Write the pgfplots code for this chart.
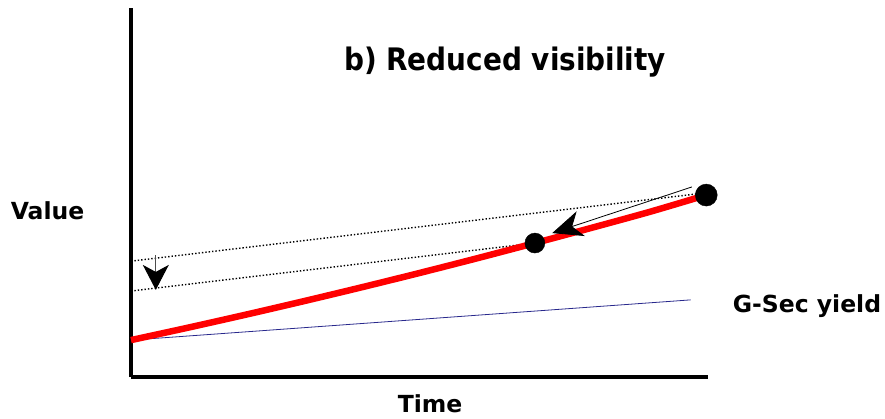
\documentclass[border=0pt]{standalone}
\usepackage{pgfplots}
\pgfplotsset{compat=1.18}
\usepackage{fontspec}
\setmainfont{DejaVu Sans}
\usetikzlibrary{arrows.meta}

\definecolor{gsecblue}{RGB}{40,40,140}

\begin{document}
\begin{tikzpicture}
  \path[use as bounding box] (-131pt,-41pt) rectangle (754pt,377pt);
  \begin{axis}[
      width=577pt, height=369pt, scale only axis,
      xmin=0, xmax=10, ymin=0, ymax=10,
      axis lines=left,
      axis line style={line width=3.5pt, -},
      ticks=none,
      clip=false,
    ]
    % G-Sec yield
    \addplot[gsecblue, line width=0.8pt] coordinates {(0,1.0) (9.7,2.09)};
    % dotted lines
    \addplot[black, dotted, line width=1.4pt] coordinates {(0,3.14) (9.85,4.97)};
    \addplot[black, dotted, line width=1.4pt] coordinates {(0,2.33) (7,3.63)};
    % value curve
    \addplot[red, line width=6.5pt, smooth] coordinates {
      (0,1.0) (1,1.341) (2,1.693) (3,2.057) (4,2.432) (5,2.819)
      (6,3.218) (7,3.63) (8,4.05) (9,4.48) (9.97,4.93)
    };
    % points
    \addplot[only marks, mark=*, mark size=10pt, black] coordinates {(7,3.63)};
    \addplot[only marks, mark=*, mark size=11pt, black] coordinates {(9.97,4.93)};
    % arrows
    \addplot[gray!60!black, line width=1pt,
      -{Stealth[length=25pt,width=26pt,inset=7pt,black]}]
      coordinates {(0.43,3.30) (0.43,2.36)};
    \addplot[black, line width=0.8pt, -{Stealth[length=30pt,width=26pt,inset=9pt]}]
      coordinates {(9.72,5.15) (7.30,3.90)};
  \end{axis}
  \node[anchor=base, inner sep=0pt, font=\bfseries\fontsize{31}{36}\selectfont]
    at (374pt,306pt) {\scalebox{0.9}[1]{b) Reduced visibility}};
  \node[anchor=base, inner sep=0pt, font=\bfseries\fontsize{23.5}{28}\selectfont] at (-83.5pt,158pt) {Value};
  \node[anchor=base, inner sep=0pt, font=\bfseries\fontsize{23.5}{28}\selectfont] at (676pt,65pt) {G-Sec yield};
  \node[anchor=base, inner sep=0pt, font=\bfseries\fontsize{23.5}{28}\selectfont] at (299pt,-35pt) {Time};
\end{tikzpicture}
\end{document}
